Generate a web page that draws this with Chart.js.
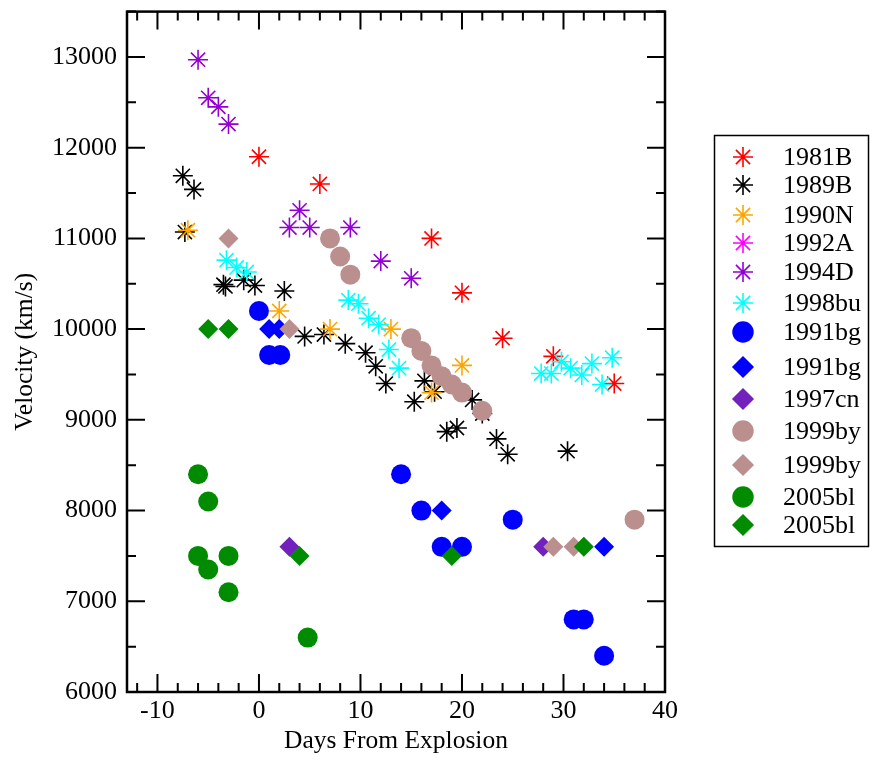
<!DOCTYPE html>
<html>
<head>
<meta charset="utf-8">
<script src="https://cdn.jsdelivr.net/npm/chart.js@4/dist/chart.umd.min.js"></script>
<style>
  body { margin: 0; background: #fff; }
  #wrap { width: 870px; height: 761px; }
</style>
</head>
<body>
<div id="wrap"><canvas id="velocity-chart" width="870" height="761"></canvas></div>
<script>
// axis ticks
const xTicks = [-10, 0, 10, 20, 30, 40];
const yTicks = [6000, 7000, 8000, 9000, 10000, 11000, 12000, 13000];

// star-marker supernovae (days from explosion, velocity km/s)
const days1981B = [0, 6, 17, 20, 24, 29, 35];
const vel1981B  = [11900, 11600, 11000, 10400, 9900, 9700, 9400];

const days1989B = [-7.5, -6.4, -7.3, -3.5, -3.3, -1.5, -0.4, 2.5, 4.5, 6.4, 8.5, 10.5, 11.5, 12.5, 15.3, 16.3, 17.3, 18.5, 19.5, 21, 22, 23.4, 24.5, 30.4];
const vel1989B  = [11690, 11540, 11070, 10490, 10470, 10540, 10480, 10420, 9920, 9940, 9840, 9740, 9590, 9400, 9200, 9430, 9310, 8870, 8910, 9220, 9070, 8790, 8620, 8655];

const days1990N = [-7, 2, 7, 13, 17, 20];
const vel1990N  = [11090, 10200, 10000, 10000, 9300, 9600];

const days1992A = [];
const vel1992A  = [];

const days1994D = [-6, -5, -4, -3, 3, 4, 5, 9, 12, 15];
const vel1994D  = [12970, 12550, 12450, 12260, 11120, 11310, 11120, 11120, 10750, 10560];

const days1998bu = [-3.2, -2.2, -1.2, 8.8, 9.8, 10.8, 11.8, 12.8, 13.8, 27.8, 28.8, 29.8, 30.7, 31.8, 32.8, 33.8, 34.8];
const vel1998bu  = [10760, 10680, 10630, 10320, 10280, 10120, 10050, 9775, 9570, 9510, 9510, 9640, 9570, 9495, 9620, 9390, 9685];

// filled-marker supernovae
const days1991bgA = [0, 1, 2.1, 14, 16, 18, 20, 25, 31, 32, 34];
const vel1991bgA  = [10200, 9715, 9715, 8400, 8000, 7600, 7600, 7900, 6800, 6800, 6400];

const days1991bgB = [1, 2, 18, 34];
const vel1991bgB  = [10000, 10000, 8000, 7600];

const days1997cn = [3, 28];
const vel1997cn  = [7600, 7600];

const days1999byA = [7, 8, 9, 15, 16, 17, 18, 19, 20, 22, 37];
const vel1999byA  = [11000, 10800, 10600, 9900, 9760, 9600, 9480, 9390, 9300, 9100, 7900];

const days1999byB = [-3, 3, 29, 31];
const vel1999byB  = [11000, 10000, 7600, 7600];

const days2005blA = [-6, -5, -6, -3, -5, -3, 4.8];
const vel2005blA  = [8400, 8100, 7500, 7500, 7350, 7100, 6600];

const days2005blB = [-5, -3, 4, 19, 32];
const vel2005blB  = [10000, 10000, 7500, 7500, 7600];

const seriesNames = ['1981B', '1989B', '1990N', '1992A', '1994D', '1998bu', '1991bg', '1991bg', '1997cn', '1999by', '1999by', '2005bl', '2005bl'];
const seriesDays = [days1981B, days1989B, days1990N, days1992A, days1994D, days1998bu, days1991bgA, days1991bgB, days1997cn, days1999byA, days1999byB, days2005blA, days2005blB];
const seriesVel = [vel1981B, vel1989B, vel1990N, vel1992A, vel1994D, vel1998bu, vel1991bgA, vel1991bgB, vel1997cn, vel1999byA, vel1999byB, vel2005blA, vel2005blB];

// marker styles
const seriesColors = ['#ff0000', '#000000', '#ffa500', '#ff00ff', '#9400d3', '#00ffff', '#0000ff', '#0000ff', '#7221bc', '#bc8f8f', '#bc8f8f', '#008b00', '#008b00'];
const seriesShapes = ['star', 'star', 'star', 'star', 'star', 'star', 'circle', 'rectRot', 'rectRot', 'circle', 'rectRot', 'circle', 'rectRot'];
const legendRows = [157, 185, 215, 243, 272, 303, 332, 367, 399, 431, 465, 497, 525];

const FONT = '"Liberation Serif", "Times New Roman", serif';

function toPoints(xs, ys) {
  return xs.map((x, i) => ({ x: x, y: ys[i] }));
}

const datasets = seriesNames.map((name, i) => {
  const star = seriesShapes[i] === 'star';
  return {
    label: name,
    data: toPoints(seriesDays[i], seriesVel[i]),
    pointStyle: seriesShapes[i],
    pointRadius: 10,
    pointHoverRadius: 10,
    pointBorderWidth: star ? 1.6 : 0,
    borderColor: seriesColors[i],
    backgroundColor: seriesColors[i],
    showLine: false,
    order: seriesNames.length - i, // later series sit on top
  };
});

function drawMarker(ctx, shape, color, x, y) {
  ctx.save();
  ctx.strokeStyle = color;
  ctx.fillStyle = color;
  ctx.lineWidth = shape === 'star' ? 1.6 : 0;
  if (Chart.helpers && Chart.helpers.drawPoint) {
    Chart.helpers.drawPoint(ctx, { pointStyle: shape, radius: 10, rotation: 0, borderWidth: ctx.lineWidth }, x, y);
  }
  ctx.restore();
}

// box frame with inward ticks on all four sides
const framePlugin = {
  id: 'frame',
  afterDatasetsDraw(chart) {
    const { ctx, chartArea: a, scales: { x, y } } = chart;
    ctx.save();
    ctx.strokeStyle = '#000';
    ctx.lineWidth = 2;
    ctx.beginPath();
    for (let v = -12; v <= 40; v += 2) {
      const px = x.getPixelForValue(v);
      const len = v % 10 === 0 ? 18 : 9;
      ctx.moveTo(px, a.bottom); ctx.lineTo(px, a.bottom - len);
      ctx.moveTo(px, a.top); ctx.lineTo(px, a.top + len);
    }
    for (let v = 6000; v <= 13500; v += 500) {
      const py = y.getPixelForValue(v);
      const len = v % 1000 === 0 ? 18 : 9;
      ctx.moveTo(a.left, py); ctx.lineTo(a.left + len, py);
      ctx.moveTo(a.right, py); ctx.lineTo(a.right - len, py);
    }
    ctx.stroke();
    ctx.lineWidth = 2.5;
    ctx.strokeRect(a.left, a.top, a.right - a.left, a.bottom - a.top);
    ctx.restore();
  }
};

// boxed legend to the right of the plot
const legendPlugin = {
  id: 'boxLegend',
  afterDraw(chart) {
    const ctx = chart.ctx;
    ctx.save();
    ctx.strokeStyle = '#000';
    ctx.lineWidth = 1.5;
    ctx.strokeRect(714.5, 135.5, 154, 411);
    ctx.font = '26px ' + FONT;
    ctx.fillStyle = '#000';
    ctx.textBaseline = 'middle';
    seriesNames.forEach((name, i) => {
      drawMarker(ctx, seriesShapes[i], seriesColors[i], 743, legendRows[i]);
      ctx.fillText(name, 783, legendRows[i] + 1);
    });
    ctx.restore();
  }
};

new Chart(document.getElementById('velocity-chart'), {
  type: 'scatter',
  data: { datasets: datasets },
  options: {
    responsive: false,
    animation: false,
    events: [],
    layout: { padding: { left: 0, right: 205, top: 5, bottom: 0 } },
    plugins: { legend: { display: false }, tooltip: { enabled: false } },
    scales: {
      x: {
        type: 'linear',
        min: -13,
        max: 40,
        grid: { display: false, drawTicks: false },
        border: { display: false },
        afterBuildTicks: (scale) => { scale.ticks = xTicks.map(v => ({ value: v })); },
        afterFit: (scale) => { scale.height = 69; scale.paddingLeft = 0; scale.paddingRight = 0; },
        ticks: { color: '#000', font: { family: FONT, size: 26 }, padding: 4, maxRotation: 0, autoSkip: false },
        title: { display: true, text: 'Days From Explosion', color: '#000', font: { family: FONT, size: 25.5 }, padding: { top: 0, bottom: 4 } }
      },
      y: {
        type: 'linear',
        min: 6000,
        max: 13500,
        grid: { display: false, drawTicks: false },
        border: { display: false },
        afterBuildTicks: (scale) => { scale.ticks = yTicks.map(v => ({ value: v })); },
        afterFit: (scale) => { scale.width = 127; scale.paddingTop = 0; scale.paddingBottom = 0; },
        ticks: { color: '#000', font: { family: FONT, size: 26 }, padding: 10, autoSkip: false, callback: (v) => String(v) },
        title: { display: true, text: 'Velocity (km/s)', color: '#000', font: { family: FONT, size: 25.5 }, padding: { top: 10, bottom: 0 } }
      }
    }
  },
  plugins: [framePlugin, legendPlugin]
});
</script>
</body>
</html>
